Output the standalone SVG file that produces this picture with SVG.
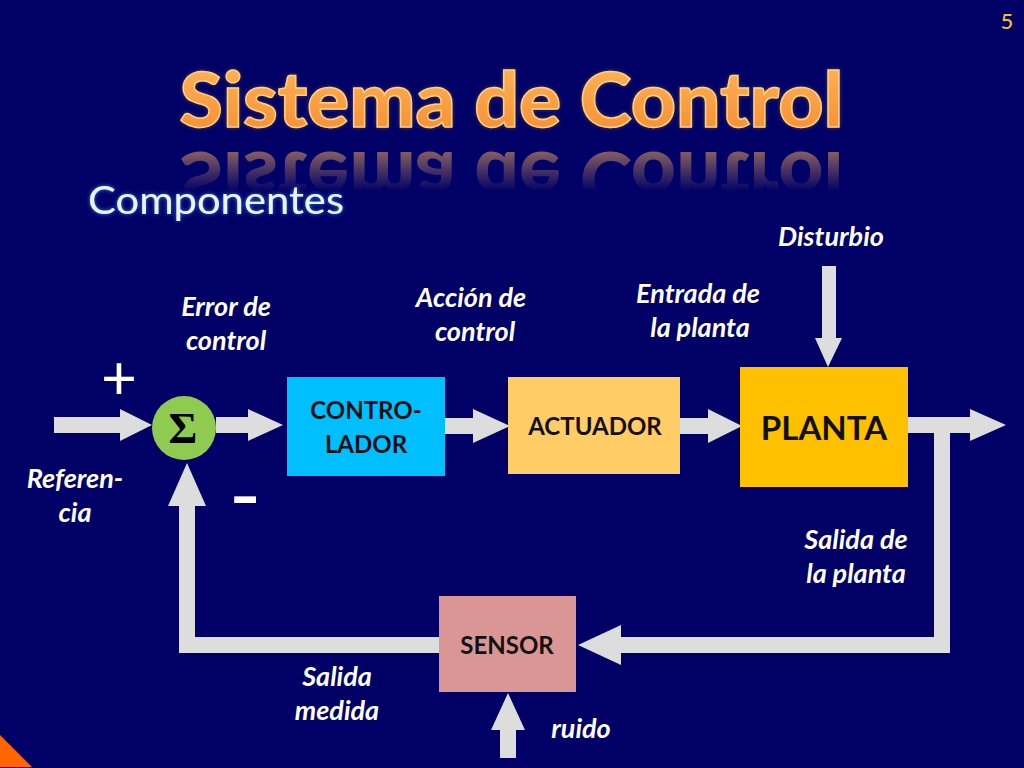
<svg xmlns="http://www.w3.org/2000/svg" width="1024" height="768" viewBox="0 0 1024 768">
<style>
text{font-family:Lato,"Open Sans","Liberation Sans",sans-serif;text-anchor:middle}
.lab{font-size:27px;font-weight:700;font-style:italic;fill:#fff}
.box{font-size:24px;font-weight:700;fill:#111}
.conn{fill:#DDDDDD}
.title{font-size:77px;font-weight:900}
</style>
<defs>
<linearGradient id="tg" x1="0" y1="0" x2="0" y2="1"><stop offset="0" stop-color="#FFB860"/><stop offset="1" stop-color="#F58A30"/></linearGradient>
<linearGradient id="fade" gradientUnits="userSpaceOnUse" x1="0" y1="150" x2="0" y2="192"><stop offset="0" stop-color="#fff" stop-opacity=".55"/><stop offset="1" stop-color="#fff" stop-opacity="0"/></linearGradient>
<mask id="fm" maskUnits="userSpaceOnUse" x="150" y="140" width="720" height="60"><rect x="150" y="140" width="720" height="60" fill="url(#fade)"/></mask>
<filter id="glow" x="-10%" y="-30%" width="120%" height="160%"><feGaussianBlur in="SourceAlpha" stdDeviation="2.2" result="b"/><feFlood flood-color="#2F7FE0"/><feComposite in2="b" operator="in"/><feMerge><feMergeNode/><feMergeNode in="SourceGraphic"/></feMerge></filter>
<filter id="tglow" x="-5%" y="-20%" width="110%" height="140%"><feGaussianBlur in="SourceAlpha" stdDeviation="2" result="b"/><feFlood flood-color="#5A4A50" flood-opacity=".8"/><feComposite in2="b" operator="in"/><feMerge><feMergeNode/><feMergeNode in="SourceGraphic"/></feMerge></filter>
</defs>
<rect width="1024" height="768" fill="#000066"/>
<polygon points="0,735 32,767 0,767" fill="#FF6600"/>
<text x="1007" y="29" fill="#F5BC40" style="font-size:22px;font-weight:500">5</text>
<g id="title">
<text class="title" x="511.5" y="127" fill="url(#tg)" stroke="#FFD27A" stroke-width="1.5" filter="url(#tglow)" textLength="664" lengthAdjust="spacingAndGlyphs">Sistema de Control</text>
<g mask="url(#fm)"><text class="title" x="511.5" y="-152" transform="scale(1,-1)" fill="#FFB060" textLength="664" lengthAdjust="spacingAndGlyphs">Sistema de Control</text></g>
</g>
<text x="216" y="214" fill="#EAF4FF" filter="url(#glow)" style="font-size:38px" textLength="256" lengthAdjust="spacingAndGlyphs">Componentes</text>
<g id="connectors" class="conn">
<polygon points="54,417 120,417 120,409 152,425 120,441 120,433 54,433"/>
<polygon points="216,417 248,417 248,409 283,425 248,441 248,433 216,433"/>
<polygon points="445,418 473,418 473,409 510,426 473,443 473,434 445,434"/>
<polygon points="680,418 708,418 708,409 742,426 708,443 708,434 680,434"/>
<polygon points="908,417 970,417 970,409 1006,425 970,441 970,433 908,433"/>
<polygon points="822,266 836,266 836,338 842,338 828,367 815,338 822,338"/>
<polygon points="934,433 950,433 950,653 621,653 621,665 578,645 621,625 621,637 934,637"/>
<polygon points="439,637 439,653 179,653 179,506 168,506 187,463 206,506 195,506 195,637"/>
<polygon points="500,758 516,758 516,730 525,730 508,693 491,730 500,730"/>
</g>
<g id="sumador"><circle cx="184" cy="428" r="32" fill="#8FCB50"/><text x="183" y="443" fill="#000" style="font-family:'Liberation Serif','DejaVu Serif',serif;font-size:44px;font-weight:700">Σ</text></g>
<g id="controlador"><rect x="287" y="377" width="158" height="99" fill="#00BFFF"/><text class="box" x="366" y="419">CONTRO-</text><text class="box" x="366" y="453">LADOR</text></g>
<g id="actuador"><rect x="508" y="377" width="172" height="97" fill="#FFCC66"/><text class="box" x="595" y="435">ACTUADOR</text></g>
<g id="planta"><rect x="740" y="367" width="168" height="120" fill="#FFC000"/><text x="824" y="440" fill="#111" style="font-size:33px;font-weight:700">PLANTA</text></g>
<g id="sensor"><rect x="439" y="596" width="137" height="96" fill="#D99694"/><text class="box" x="507" y="654">SENSOR</text></g>
<text x="119" y="399" fill="#fff" style="font-size:62px;font-weight:400">+</text>
<text x="245" y="526" fill="#fff" style="font-size:88px;font-weight:400">-</text>
<g class="labels">
<text class="lab" x="831" y="246">Disturbio</text>
<text class="lab" x="226" y="316">Error de</text><text class="lab" x="226" y="350">control</text>
<text class="lab" x="471" y="307">Acción de</text><text class="lab" x="475" y="341">control</text>
<text class="lab" x="698" y="303">Entrada de</text><text class="lab" x="700" y="337">la planta</text>
<text class="lab" x="75" y="488">Referen-</text><text class="lab" x="75" y="522">cia</text>
<text class="lab" x="856" y="549">Salida de</text><text class="lab" x="856" y="583">la planta</text>
<text class="lab" x="337" y="686">Salida</text><text class="lab" x="337" y="720">medida</text>
<text class="lab" x="581" y="738">ruido</text>
</g>
</svg>
